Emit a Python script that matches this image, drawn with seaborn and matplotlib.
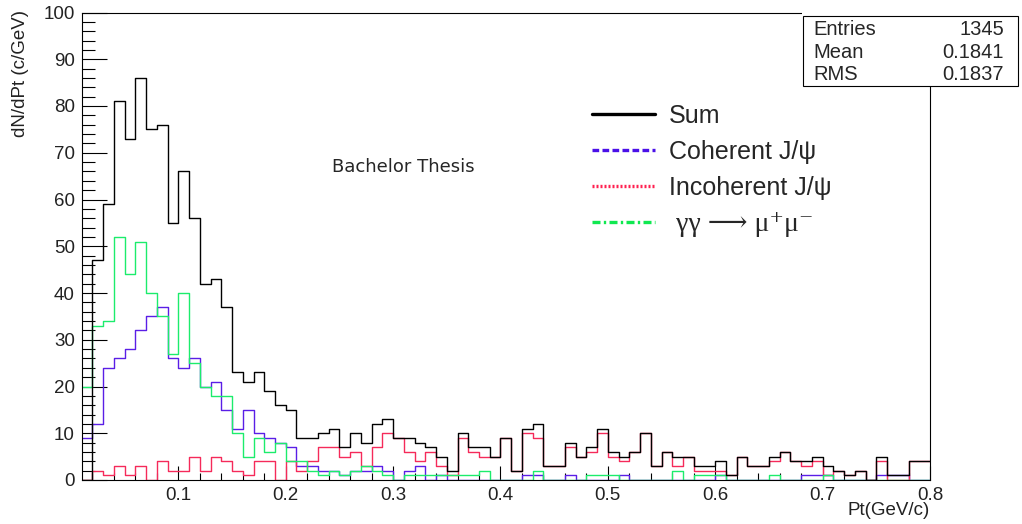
import numpy as np
import pandas as pd
import matplotlib
matplotlib.use("Agg")
import matplotlib.pyplot as plt
from matplotlib.lines import Line2D
from matplotlib.patches import Rectangle
from matplotlib.ticker import MultipleLocator
import seaborn as sns

# binning of the Pt histogram (GeV/c)
pt_min, pt_max, n_bins = 0.01, 0.80, 79

sum_counts = [0, 47, 59, 81, 73, 86, 75, 76, 55, 66,
              56, 42, 43, 37, 23, 21, 23, 19, 16, 15,
              9, 9, 10, 11, 7, 10, 8, 12, 13, 9,
              9, 8, 7, 5, 2, 10, 7, 7, 5, 9,
              2, 11, 12, 3, 3, 8, 5, 7, 11, 6,
              5, 6, 10, 3, 6, 5, 5, 3, 3, 4,
              1, 5, 3, 3, 5, 6, 4, 4, 5, 3,
              2, 1, 2, 0, 5, 1, 1, 4, 4]

coherent_counts = [9, 12, 24, 26, 28, 32, 35, 37, 26, 24,
                   26, 20, 21, 15, 11, 15, 10, 9, 8, 7,
                   3, 3, 2, 2, 1, 2, 2, 3, 2, 0,
                   2, 3, 0, 1, 0, 0, 0, 0, 0, 0,
                   0, 1, 1, 0, 0, 1, 0, 0, 0, 0,
                   1, 0, 0, 0, 0, 0, 0, 0, 0, 1,
                   0, 0, 0, 0, 0, 0, 0, 1, 1, 1,
                   0, 0, 0, 0, 1, 1, 1, 0, 0]

incoherent_counts = [0, 2, 1, 3, 1, 3, 0, 4, 2, 2,
                     5, 2, 5, 4, 2, 1, 4, 4, 0, 4,
                     2, 4, 7, 7, 5, 6, 3, 7, 10, 9,
                     6, 4, 6, 3, 1, 9, 6, 5, 5, 9,
                     2, 10, 9, 3, 3, 7, 5, 6, 10, 5,
                     4, 6, 10, 3, 6, 3, 5, 2, 2, 2,
                     1, 5, 3, 3, 4, 6, 4, 3, 4, 1,
                     2, 1, 2, 0, 4, 0, 0, 4, 4]

gammagamma_counts = [20, 33, 34, 52, 44, 51, 40, 35, 27, 40,
                     25, 20, 18, 18, 10, 5, 9, 6, 8, 4,
                     4, 2, 1, 2, 1, 2, 3, 2, 1, 0,
                     1, 1, 1, 1, 1, 1, 1, 2, 0, 0,
                     0, 0, 2, 0, 0, 0, 0, 1, 1, 1,
                     0, 0, 0, 0, 0, 2, 0, 1, 1, 1,
                     0, 0, 0, 0, 1, 0, 0, 0, 0, 1,
                     0, 0, 0, 0, 0, 0, 0, 0, 0]

series_names = ["Coherent", "Incoherent", "gammagamma", "Sum"]
legend_labels = ["Sum", "Coherent J/\u03c8", "Incoherent J/\u03c8",
                 " \u03b3\u03b3 \u27f6 \u03bc\u207a\u03bc\u207b"]
stats_names = ["Entries", "Mean", "RMS"]
stats_values = ["1345", "0.1841", "0.1837"]

colors = {"Sum": "black", "Coherent": "#5a1ee6",
          "Incoherent": "#f52a5a", "gammagamma": "#1cec6c"}

edges = np.linspace(pt_min, pt_max, n_bins + 1)
centers = (edges[:-1] + edges[1:]) / 2

df = pd.concat([
    pd.DataFrame({"pt": centers, "count": coherent_counts, "component": "Coherent"}),
    pd.DataFrame({"pt": centers, "count": incoherent_counts, "component": "Incoherent"}),
    pd.DataFrame({"pt": centers, "count": gammagamma_counts, "component": "gammagamma"}),
    pd.DataFrame({"pt": centers, "count": sum_counts, "component": "Sum"}),
])

sns.set_style("white")
plt.rcParams["font.family"] = ["Liberation Sans", "DejaVu Sans"]

W, H = 1022, 524
fig = plt.figure(figsize=(W / 100, H / 100), dpi=100)
ax = fig.add_axes([81.7 / W, 1 - 480 / H, (930 - 81.7) / W, (480 - 12.5) / H])

for name in series_names:
    sub = df[df["component"] == name]
    sns.histplot(data=sub, x="pt", weights="count", bins=edges.tolist(), element="step",
                 fill=False, color=colors[name], linewidth=1.0, ax=ax)

ax.set_xlim(pt_min, pt_max)
ax.set_ylim(0, 100)

ax.xaxis.set_major_locator(MultipleLocator(0.1))
ax.xaxis.set_minor_locator(MultipleLocator(0.02))
ax.yaxis.set_major_locator(MultipleLocator(10))
ax.yaxis.set_minor_locator(MultipleLocator(2))
ax.set_xticks([0.1, 0.2, 0.3, 0.4, 0.5, 0.6, 0.7, 0.8])
ax.set_xticklabels(["0.1", "0.2", "0.3", "0.4", "0.5", "0.6", "0.7", "0.8"])
ax.set_yticks(range(0, 101, 10))
ax.set_yticklabels([str(v) for v in range(0, 101, 10)])

ax.tick_params(axis="both", which="both", direction="in", width=0.8,
               color="black", labelsize=13.5, labelcolor="#222222",
               bottom=True, left=True, top=False, right=False)
ax.tick_params(axis="y", which="major", length=18, pad=5)
ax.tick_params(axis="y", which="minor", length=9)
ax.tick_params(axis="x", which="major", length=10, pad=5)
ax.tick_params(axis="x", which="minor", length=5)

for sp in ax.spines.values():
    sp.set_color("black")
    sp.set_linewidth(0.8)

ax.set_xlabel("Pt(GeV/c)", fontsize=13.5, loc="right", color="#222222")
ax.set_ylabel("dN/dPt (c/GeV)", fontsize=13.5, loc="top", color="#222222")
ax.xaxis.set_label_coords(1.0, -0.047)
ax.yaxis.set_label_coords(-0.062, 1.005)

# legend
handles = [
    Line2D([], [], color="black", lw=2.4, ls="-"),
    Line2D([], [], color="#4a10e8", lw=2.4, ls=(0, (2, 1))),
    Line2D([], [], color="#ff2050", lw=2.4, ls=(0, (0.6, 0.6))),
    Line2D([], [], color="#10e850", lw=2.4, ls=(0, (2.4, 1, 0.7, 1))),
]
leg = fig.legend(handles, legend_labels, loc="upper left",
                 bbox_to_anchor=(592 / W, 1 - 104 / H), bbox_transform=fig.transFigure,
                 frameon=False, fontsize=18, borderpad=0, borderaxespad=0,
                 handlelength=2.52, handletextpad=0.56, labelspacing=0.48)
gg_text = leg.get_texts()[3]
gg_text.set_family(["Liberation Serif", "DejaVu Serif", "DejaVu Sans"])
gg_text.set_fontsize(20)

fig.text(332 / W, 1 - 171.5 / H, "Bachelor Thesis", fontsize=13,
         family="DejaVu Sans", va="baseline", ha="left")

# stats box
fig.add_artist(Rectangle((802 / W, 1 - 86 / H), 216 / W, 76 / H,
                         transform=fig.transFigure, facecolor="white",
                         edgecolor="none", zorder=5))
fig.add_artist(Rectangle((802.5 / W, 1 - 86 / H), 215 / W, 70 / H,
                         transform=fig.transFigure, facecolor="white",
                         edgecolor="black", linewidth=0.8, zorder=6))
for i, (nm, val) in enumerate(zip(stats_names, stats_values)):
    y = 1 - (29.5 + i * 22.5) / H
    fig.text(813 / W, y, nm, fontsize=14.5, va="center", ha="left", zorder=7)
    fig.text(1004 / W, y, val, fontsize=14.5, va="center", ha="right", zorder=7)

fig.savefig("out.png", dpi=100)
